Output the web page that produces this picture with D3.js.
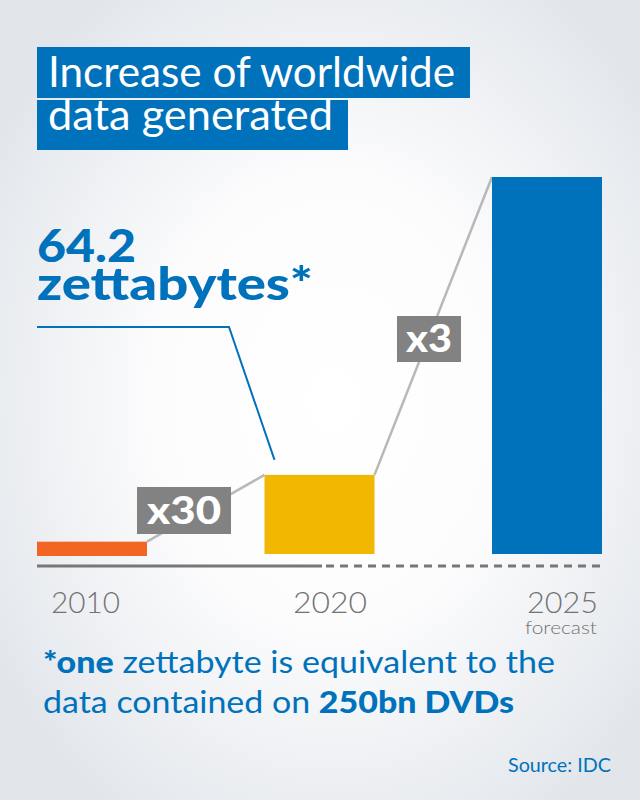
<!DOCTYPE html>
<html><head><meta charset="utf-8">
<script src="https://cdn.jsdelivr.net/npm/d3@7"></script>
<style>html,body{margin:0;padding:0;background:#fff}svg{display:block}</style>
</head><body>
<svg id="c" width="640" height="800"></svg>
<script>
// ---- data ----
const years = ["2010", "2020", "2025"];
const values = [10, 64.2, 306];            // bar heights as drawn (zettabytes, illustrative)
const barColors = ["#f26522", "#f2b700", "#0072bb"];
const multipliers = ["x30", "x3"];
const titleLines = ["Increase of worldwide", "data generated"];
const calloutLines = ["64.2", "zettabytes*"];
const sublabels = ["", "", "forecast"];
const source = "Source: IDC";

const W = 640, H = 800;
const svg = d3.select("#c");
const blue = "#0072bb";

// background
const defs = svg.append("defs");
const rg = defs.append("radialGradient").attr("id", "bg")
  .attr("cx", "52%").attr("cy", "50%").attr("r", "62%");
rg.append("stop").attr("offset", "0%").attr("stop-color", "#ffffff");
rg.append("stop").attr("offset", "45%").attr("stop-color", "#fcfcfd");
rg.append("stop").attr("offset", "100%").attr("stop-color", "#e2e6eb");
svg.append("rect").attr("width", W).attr("height", H).attr("fill", "url(#bg)");

function fit(sel, target) {
  const n = sel.node();
  const fs = parseFloat(sel.attr("font-size"));
  const len = n.getComputedTextLength();
  sel.attr("font-size", (fs * target / len).toFixed(2));
  return sel;
}
function span(sel, target) {
  return sel.attr("textLength", target).attr("lengthAdjust", "spacingAndGlyphs");
}

// scales
const x = d3.scaleBand().domain(years).range([37, 602]).paddingInner(0.5165).paddingOuter(0);
const y = d3.scaleLinear().domain([0, 306]).range([554, 177]);

// title
const titleBoxes = [{x0: 37, y0: 47, w: 433, h: 51, tw: 407, by: 87},
                    {x0: 37, y0: 100, w: 311, h: 50, tw: 285, by: 130}];
titleLines.forEach((t, i) => {
  const b = titleBoxes[i];
  svg.append("rect").attr("x", b.x0).attr("y", b.y0).attr("width", b.w).attr("height", b.h).attr("fill", blue);
  span(svg.append("text").attr("x", 48).attr("y", b.by).attr("fill", "#fff")
    .attr("font-family", "Lato").attr("font-weight", 400).attr("font-size", 42).text(t), b.tw);
});

// callout
const cw = [99, 276], cb = [262, 300];
calloutLines.forEach((t, i) => {
  span(svg.append("text").attr("x", 37).attr("y", cb[i]).attr("fill", blue)
    .attr("font-family", "Lato").attr("font-weight", 900).attr("font-size", 46).text(t), cw[i]);
});
svg.append("path").attr("fill", "none").attr("stroke", blue).attr("stroke-width", 2)
  .attr("d", d3.line()([[37, 327], [229, 327], [x("2020") + 10, y(values[1]) - 15]]));

// connectors
const conn = [
  [[x(years[0]) + x.bandwidth(), y(values[0])], [x(years[1]), y(values[1])]],
  [[x(years[1]) + x.bandwidth(), y(values[1])], [x(years[2]), y(values[2])]]
];
conn.forEach(c => svg.append("line").attr("x1", c[0][0]).attr("y1", c[0][1])
  .attr("x2", c[1][0]).attr("y2", c[1][1]).attr("stroke", "#b8b8b8").attr("stroke-width", 2.5));

// bars
svg.selectAll("rect.bar").data(years).join("rect").attr("class", "bar")
  .attr("x", d => x(d)).attr("width", x.bandwidth())
  .attr("y", (d, i) => y(values[i])).attr("height", (d, i) => y(0) - y(values[i]) + (i === 0 ? 2 : 0))
  .attr("fill", (d, i) => barColors[i]);

// multiplier boxes
const boxes = [{cx: 184, cy: 510.5, w: 94, h: 47, tw: 74, fs: 37},
               {cx: 429, cy: 339, w: 64, h: 46, tw: 46, fs: 37}];
multipliers.forEach((m, i) => {
  const b = boxes[i];
  svg.append("rect").attr("x", b.cx - b.w / 2).attr("y", b.cy - b.h / 2).attr("width", b.w).attr("height", b.h).attr("fill", "#828282");
  span(svg.append("text").attr("x", b.cx - b.tw / 2).attr("y", b.cy + 13).attr("fill", "#fff")
    .attr("font-family", "Lato").attr("font-weight", 900).attr("font-size", b.fs).text(m), b.tw);
});

// axis baseline
svg.append("line").attr("x1", 37).attr("x2", 322).attr("y1", 566).attr("y2", 566)
  .attr("stroke", "#777").attr("stroke-width", 3);
svg.append("line").attr("x1", 326).attr("x2", 600).attr("y1", 566).attr("y2", 566)
  .attr("stroke", "#777").attr("stroke-width", 3).attr("stroke-dasharray", "8,6");

// year labels
const yl = [{x0: 51, w: 69}, {x0: 293, w: 74}, {x0: 527, w: 71}];
years.forEach((t, i) => {
  span(svg.append("text").attr("x", yl[i].x0).attr("y", 613).attr("fill", "#737373")
    .attr("font-family", "Lato").attr("font-weight", 300).attr("font-size", 29).text(t), yl[i].w);
  if (sublabels[i]) {
    span(svg.append("text").attr("x", 525).attr("y", 634).attr("fill", "#737373")
      .attr("font-family", "Lato").attr("font-weight", 300).attr("font-size", 18).text(sublabels[i]), 72);
  }
});

// footnote
const f1 = svg.append("text").attr("x", 43).attr("y", 673).attr("fill", blue)
  .attr("font-family", "Lato").attr("font-weight", 400).attr("font-size", 30);
f1.append("tspan").attr("font-weight", 900).text("*one");
f1.append("tspan").text(" zettabyte is equivalent to the");
span(f1, 512);
const f2 = svg.append("text").attr("x", 43).attr("y", 713).attr("fill", blue)
  .attr("font-family", "Lato").attr("font-weight", 400).attr("font-size", 30);
f2.append("tspan").text("data contained on ");
f2.append("tspan").attr("font-weight", 900).text("250bn DVDs");
span(f2, 471);

span(svg.append("text").attr("x", 508).attr("y", 772).attr("fill", blue)
  .attr("font-family", "Lato").attr("font-weight", 400).attr("font-size", 20).text(source), 103);
</script>
</body></html>
